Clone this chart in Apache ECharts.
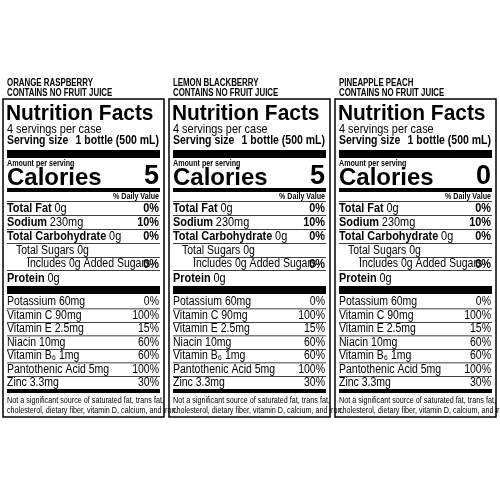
<!DOCTYPE html><html><head><meta charset="utf-8"><script src="https://cdn.jsdelivr.net/npm/echarts@6/dist/echarts.min.js"></script>
<style>html,body{margin:0;background:#fff}#c{width:500px;height:500px}</style></head><body><div id="c"></div><script>
const flavors = ['ORANGE RASPBERRY','LEMON BLACKBERRY','PINEAPPLE PEACH'];
const calories = [5,5,0];
const servingsText = '4 servings per case';
const servingSize = '1 bottle (500 mL)';
const mainNames = ['Total Fat','Sodium','Total Carbohydrate'];
const mainAmounts = ['0g','230mg','0g'];
const mainDV = ['0%','10%','0%'];
const vitNames = ['Potassium 60mg','Vitamin C 90mg','Vitamin E 2.5mg','Niacin 10mg','Vitamin B\u2086 1mg','Pantothenic Acid 5mg','Zinc 3.3mg'];
const vitDV = ['0%','100%','15%','60%','60%','100%','30%'];
const footnote = ['Not a significant source of saturated fat, trans fat,','cholesterol, dietary fiber, vitamin D, calcium, and iron.'];

const F='Liberation Sans';
const g=[];
function txt(x,y,s,size,opt){opt=opt||{};g.push({type:'text',x:x,y:y,scaleX:opt.sx||0.84,style:{text:s,font:(opt.w||'normal')+' '+size+'px "'+F+'"',fill:'#000',textAlign:opt.a||'left',textVerticalAlign:'middle'}});}
function rich(x,y,b,n,size){g.push({type:'text',x:x,y:y,scaleX:0.84,style:{rich:{b:{font:'bold '+size+'px "'+F+'"'},n:{font:size+'px "'+F+'"'}},text:'{b|'+b+'} {n|'+n+'}',fill:'#000',textVerticalAlign:'middle'}});}
function rect(x,y,w,h){g.push({type:'rect',shape:{x:x,y:y,width:w,height:h},style:{fill:'#000'}});}
function line(x,y,w,h){rect(x,y,w,h||0.8);}
flavors.forEach((fl,i)=>{
 const x0=3+i*166, W=161, L=x0+4, R=x0+W-5, IW=W-8;
 txt(L,83,fl,10.5,{w:'bold',sx:0.75});
 txt(L,93,'CONTAINS NO FRUIT JUICE',10.5,{w:'bold',sx:0.75});
 g.push({type:'rect',shape:{x:x0,y:99,width:W,height:318},style:{fill:'none',stroke:'#000',lineWidth:1.5}});
 txt(L-1,114,'Nutrition Facts',22,{w:'bold',sx:0.95});
 txt(L,129,servingsText,13);
 txt(L,141,'Serving size',12.5,{w:'bold'});
 txt(R,141,servingSize,12.5,{w:'bold',a:'right'});
 rect(L,150,IW,8);
 txt(L,164,'Amount per serving',8.5,{w:'bold'});
 txt(L,178,'Calories',24,{w:'bold',sx:1});
 txt(R,177,String(calories[i]),27,{w:'bold',sx:1,a:'right'});
 rect(L,188,IW,4);
 txt(R,197,'% Daily Value',8.5,{w:'bold',a:'right'});
 const my=[208,222,236];
 mainNames.forEach((n,k)=>{
   line(L,my[k]-7,IW);
   rich(L,my[k],n,mainAmounts[k],13);
   txt(R,my[k],mainDV[k],13,{w:'bold',a:'right'});
 });
 line(L,243,IW);
 txt(L+9,251,'Total Sugars 0g',12.5);
 line(L+20,257,IW-20);
 txt(L+20,264,'Includes 0g Added Sugars',12.5);
 txt(R,264,'0%',13,{w:'bold',a:'right'});
 line(L,270,IW);
 rich(L,278,'Protein','0g',13);
 rect(L,286,IW,8);
 vitNames.forEach((n,k)=>{
   const y=302+k*13.5;
   if(k>0) line(L,y-7,IW);
   txt(L,y,n,12.5);
   txt(R,y,vitDV[k],12.5,{a:'right'});
 });
 rect(L,389,IW,4);
 txt(L,401,footnote[0],9,{sx:0.8});
 txt(L,411,footnote[1],9,{sx:0.8});
});
const ch=echarts.init(document.getElementById('c'));
ch.setOption({animation:false,graphic:g});
</script></body></html>
